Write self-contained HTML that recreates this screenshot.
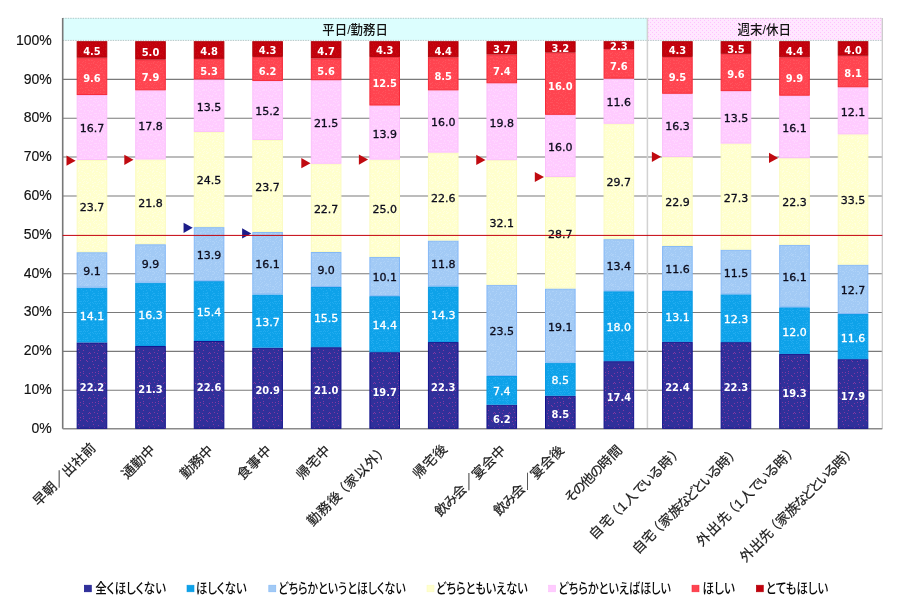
<!DOCTYPE html>
<html lang="ja"><head><meta charset="utf-8"><title>chart</title>
<style>
html,body{margin:0;padding:0;background:#fff;}
body{width:900px;height:608px;overflow:hidden;}
svg{display:block;}
text{font-family:"Liberation Sans","Noto Sans CJK JP",sans-serif;}
.ax{font-size:14px;fill:#111;stroke:#111;stroke-width:0.15px;}
.hd{font-size:13px;fill:#111;font-weight:500;}
.lb{font-family:"DejaVu Sans Condensed","DejaVu Sans","Liberation Sans",sans-serif;font-weight:bold;font-size:11px;stroke-width:0;}
.ln{font-family:"DejaVu Sans","Liberation Sans",sans-serif;font-size:11px;stroke-width:0.3px;}
.xl{font-size:13.5px;fill:#1a1a1a;stroke:#1a1a1a;stroke-width:0.2px;}
.lg{font-size:14px;fill:#0a0a0a;font-feature-settings:"palt";font-weight:500;}
</style></head><body>
<svg width="900" height="608" viewBox="0 0 900 608">
<rect width="900" height="608" fill="#fff"/>
<defs><pattern id="p0" width="15" height="15" patternUnits="userSpaceOnUse"><rect width="15" height="15" fill="#30309a"/><rect x="0" y="8" width="1" height="1" fill="#8438a2"/><rect x="2" y="1" width="1" height="1" fill="#8438a2"/><rect x="2" y="12" width="1" height="1" fill="#8438a2"/><rect x="3" y="4" width="1" height="1" fill="#8438a2"/><rect x="4" y="7" width="1" height="1" fill="#8438a2"/><rect x="5" y="0" width="1" height="1" fill="#8438a2"/><rect x="5" y="12" width="1" height="1" fill="#8438a2"/><rect x="7" y="8" width="1" height="1" fill="#8438a2"/><rect x="8" y="5" width="1" height="1" fill="#8438a2"/><rect x="8" y="11" width="1" height="1" fill="#8438a2"/><rect x="8" y="13" width="1" height="1" fill="#8438a2"/><rect x="11" y="0" width="1" height="1" fill="#8438a2"/><rect x="12" y="1" width="1" height="1" fill="#8438a2"/><rect x="13" y="8" width="1" height="1" fill="#8438a2"/><rect x="14" y="7" width="1" height="1" fill="#8438a2"/><rect x="14" y="13" width="1" height="1" fill="#8438a2"/></pattern><pattern id="p1" width="15" height="15" patternUnits="userSpaceOnUse"><rect width="15" height="15" fill="#0ea2e9"/><rect x="0" y="2" width="1" height="1" fill="#22acf0"/><rect x="0" y="4" width="1" height="1" fill="#22acf0"/><rect x="0" y="5" width="1" height="1" fill="#22acf0"/><rect x="1" y="11" width="1" height="1" fill="#22acf0"/><rect x="1" y="13" width="1" height="1" fill="#22acf0"/><rect x="2" y="2" width="1" height="1" fill="#22acf0"/><rect x="2" y="6" width="1" height="1" fill="#22acf0"/><rect x="2" y="9" width="1" height="1" fill="#22acf0"/><rect x="2" y="13" width="1" height="1" fill="#22acf0"/><rect x="3" y="3" width="1" height="1" fill="#22acf0"/><rect x="3" y="8" width="1" height="1" fill="#22acf0"/><rect x="3" y="12" width="1" height="1" fill="#22acf0"/><rect x="4" y="1" width="1" height="1" fill="#22acf0"/><rect x="4" y="8" width="1" height="1" fill="#22acf0"/><rect x="4" y="10" width="1" height="1" fill="#22acf0"/><rect x="4" y="14" width="1" height="1" fill="#22acf0"/><rect x="5" y="1" width="1" height="1" fill="#22acf0"/><rect x="5" y="3" width="1" height="1" fill="#22acf0"/><rect x="5" y="10" width="1" height="1" fill="#22acf0"/><rect x="6" y="1" width="1" height="1" fill="#22acf0"/><rect x="6" y="4" width="1" height="1" fill="#22acf0"/><rect x="7" y="3" width="1" height="1" fill="#22acf0"/><rect x="7" y="10" width="1" height="1" fill="#22acf0"/><rect x="8" y="1" width="1" height="1" fill="#22acf0"/><rect x="8" y="6" width="1" height="1" fill="#22acf0"/><rect x="8" y="8" width="1" height="1" fill="#22acf0"/><rect x="8" y="10" width="1" height="1" fill="#22acf0"/><rect x="8" y="13" width="1" height="1" fill="#22acf0"/><rect x="9" y="0" width="1" height="1" fill="#22acf0"/><rect x="9" y="3" width="1" height="1" fill="#22acf0"/><rect x="10" y="1" width="1" height="1" fill="#22acf0"/><rect x="10" y="8" width="1" height="1" fill="#22acf0"/><rect x="10" y="10" width="1" height="1" fill="#22acf0"/><rect x="11" y="5" width="1" height="1" fill="#22acf0"/><rect x="11" y="8" width="1" height="1" fill="#22acf0"/><rect x="11" y="11" width="1" height="1" fill="#22acf0"/><rect x="11" y="13" width="1" height="1" fill="#22acf0"/><rect x="12" y="1" width="1" height="1" fill="#22acf0"/><rect x="12" y="7" width="1" height="1" fill="#22acf0"/><rect x="12" y="8" width="1" height="1" fill="#22acf0"/><rect x="12" y="10" width="1" height="1" fill="#22acf0"/><rect x="12" y="12" width="1" height="1" fill="#22acf0"/><rect x="13" y="0" width="1" height="1" fill="#22acf0"/><rect x="13" y="3" width="1" height="1" fill="#22acf0"/><rect x="13" y="10" width="1" height="1" fill="#22acf0"/><rect x="13" y="13" width="1" height="1" fill="#22acf0"/><rect x="14" y="3" width="1" height="1" fill="#22acf0"/></pattern><pattern id="p2" width="15" height="15" patternUnits="userSpaceOnUse"><rect width="15" height="15" fill="#a2caf5"/><rect x="0" y="1" width="1" height="1" fill="#aed2f8"/><rect x="0" y="9" width="1" height="1" fill="#aed2f8"/><rect x="0" y="12" width="1" height="1" fill="#aed2f8"/><rect x="0" y="14" width="1" height="1" fill="#aed2f8"/><rect x="1" y="6" width="1" height="1" fill="#aed2f8"/><rect x="1" y="8" width="1" height="1" fill="#aed2f8"/><rect x="2" y="1" width="1" height="1" fill="#aed2f8"/><rect x="2" y="4" width="1" height="1" fill="#aed2f8"/><rect x="3" y="1" width="1" height="1" fill="#aed2f8"/><rect x="3" y="4" width="1" height="1" fill="#aed2f8"/><rect x="4" y="2" width="1" height="1" fill="#aed2f8"/><rect x="4" y="3" width="1" height="1" fill="#aed2f8"/><rect x="4" y="9" width="1" height="1" fill="#aed2f8"/><rect x="5" y="7" width="1" height="1" fill="#aed2f8"/><rect x="5" y="8" width="1" height="1" fill="#aed2f8"/><rect x="5" y="11" width="1" height="1" fill="#aed2f8"/><rect x="5" y="14" width="1" height="1" fill="#aed2f8"/><rect x="6" y="1" width="1" height="1" fill="#aed2f8"/><rect x="6" y="7" width="1" height="1" fill="#aed2f8"/><rect x="6" y="9" width="1" height="1" fill="#aed2f8"/><rect x="6" y="13" width="1" height="1" fill="#aed2f8"/><rect x="7" y="4" width="1" height="1" fill="#aed2f8"/><rect x="7" y="12" width="1" height="1" fill="#aed2f8"/><rect x="8" y="2" width="1" height="1" fill="#aed2f8"/><rect x="8" y="7" width="1" height="1" fill="#aed2f8"/><rect x="9" y="0" width="1" height="1" fill="#aed2f8"/><rect x="9" y="6" width="1" height="1" fill="#aed2f8"/><rect x="9" y="11" width="1" height="1" fill="#aed2f8"/><rect x="10" y="8" width="1" height="1" fill="#aed2f8"/><rect x="10" y="9" width="1" height="1" fill="#aed2f8"/><rect x="10" y="14" width="1" height="1" fill="#aed2f8"/><rect x="11" y="0" width="1" height="1" fill="#aed2f8"/><rect x="11" y="3" width="1" height="1" fill="#aed2f8"/><rect x="11" y="13" width="1" height="1" fill="#aed2f8"/><rect x="12" y="0" width="1" height="1" fill="#aed2f8"/><rect x="12" y="6" width="1" height="1" fill="#aed2f8"/><rect x="12" y="14" width="1" height="1" fill="#aed2f8"/><rect x="13" y="1" width="1" height="1" fill="#aed2f8"/><rect x="13" y="4" width="1" height="1" fill="#aed2f8"/><rect x="13" y="6" width="1" height="1" fill="#aed2f8"/><rect x="13" y="14" width="1" height="1" fill="#aed2f8"/><rect x="14" y="10" width="1" height="1" fill="#aed2f8"/></pattern><pattern id="p3" width="15" height="15" patternUnits="userSpaceOnUse"><rect width="15" height="15" fill="#ffffcd"/><rect x="0" y="0" width="1" height="1" fill="#ffffdf"/><rect x="0" y="5" width="1" height="1" fill="#ffffdf"/><rect x="0" y="13" width="1" height="1" fill="#ffffdf"/><rect x="0" y="14" width="1" height="1" fill="#ffffdf"/><rect x="2" y="1" width="1" height="1" fill="#ffffdf"/><rect x="2" y="3" width="1" height="1" fill="#ffffdf"/><rect x="2" y="6" width="1" height="1" fill="#ffffdf"/><rect x="2" y="7" width="1" height="1" fill="#ffffdf"/><rect x="2" y="10" width="1" height="1" fill="#ffffdf"/><rect x="3" y="3" width="1" height="1" fill="#ffffdf"/><rect x="3" y="5" width="1" height="1" fill="#ffffdf"/><rect x="3" y="6" width="1" height="1" fill="#ffffdf"/><rect x="3" y="12" width="1" height="1" fill="#ffffdf"/><rect x="4" y="2" width="1" height="1" fill="#ffffdf"/><rect x="4" y="8" width="1" height="1" fill="#ffffdf"/><rect x="4" y="11" width="1" height="1" fill="#ffffdf"/><rect x="4" y="13" width="1" height="1" fill="#ffffdf"/><rect x="5" y="2" width="1" height="1" fill="#ffffdf"/><rect x="5" y="10" width="1" height="1" fill="#ffffdf"/><rect x="6" y="6" width="1" height="1" fill="#ffffdf"/><rect x="6" y="10" width="1" height="1" fill="#ffffdf"/><rect x="6" y="13" width="1" height="1" fill="#ffffdf"/><rect x="7" y="0" width="1" height="1" fill="#ffffdf"/><rect x="7" y="4" width="1" height="1" fill="#ffffdf"/><rect x="7" y="6" width="1" height="1" fill="#ffffdf"/><rect x="8" y="2" width="1" height="1" fill="#ffffdf"/><rect x="8" y="4" width="1" height="1" fill="#ffffdf"/><rect x="8" y="14" width="1" height="1" fill="#ffffdf"/><rect x="9" y="1" width="1" height="1" fill="#ffffdf"/><rect x="9" y="7" width="1" height="1" fill="#ffffdf"/><rect x="9" y="10" width="1" height="1" fill="#ffffdf"/><rect x="9" y="14" width="1" height="1" fill="#ffffdf"/><rect x="10" y="8" width="1" height="1" fill="#ffffdf"/><rect x="10" y="13" width="1" height="1" fill="#ffffdf"/><rect x="11" y="1" width="1" height="1" fill="#ffffdf"/><rect x="11" y="3" width="1" height="1" fill="#ffffdf"/><rect x="11" y="10" width="1" height="1" fill="#ffffdf"/><rect x="12" y="2" width="1" height="1" fill="#ffffdf"/><rect x="12" y="3" width="1" height="1" fill="#ffffdf"/><rect x="12" y="8" width="1" height="1" fill="#ffffdf"/><rect x="12" y="11" width="1" height="1" fill="#ffffdf"/><rect x="12" y="14" width="1" height="1" fill="#ffffdf"/><rect x="13" y="2" width="1" height="1" fill="#ffffdf"/><rect x="13" y="8" width="1" height="1" fill="#ffffdf"/><rect x="14" y="10" width="1" height="1" fill="#ffffdf"/><rect x="14" y="13" width="1" height="1" fill="#ffffdf"/></pattern><pattern id="p4" width="15" height="15" patternUnits="userSpaceOnUse"><rect width="15" height="15" fill="#ffcbff"/><rect x="0" y="0" width="1" height="1" fill="#ffd6ff"/><rect x="0" y="5" width="1" height="1" fill="#ffd6ff"/><rect x="0" y="9" width="1" height="1" fill="#ffd6ff"/><rect x="0" y="14" width="1" height="1" fill="#ffd6ff"/><rect x="1" y="6" width="1" height="1" fill="#ffd6ff"/><rect x="1" y="9" width="1" height="1" fill="#ffd6ff"/><rect x="1" y="14" width="1" height="1" fill="#ffd6ff"/><rect x="2" y="0" width="1" height="1" fill="#ffd6ff"/><rect x="2" y="5" width="1" height="1" fill="#ffd6ff"/><rect x="2" y="6" width="1" height="1" fill="#ffd6ff"/><rect x="3" y="3" width="1" height="1" fill="#ffd6ff"/><rect x="3" y="11" width="1" height="1" fill="#ffd6ff"/><rect x="3" y="14" width="1" height="1" fill="#ffd6ff"/><rect x="4" y="1" width="1" height="1" fill="#ffd6ff"/><rect x="4" y="8" width="1" height="1" fill="#ffd6ff"/><rect x="4" y="11" width="1" height="1" fill="#ffd6ff"/><rect x="5" y="1" width="1" height="1" fill="#ffd6ff"/><rect x="5" y="4" width="1" height="1" fill="#ffd6ff"/><rect x="5" y="8" width="1" height="1" fill="#ffd6ff"/><rect x="5" y="12" width="1" height="1" fill="#ffd6ff"/><rect x="6" y="3" width="1" height="1" fill="#ffd6ff"/><rect x="6" y="4" width="1" height="1" fill="#ffd6ff"/><rect x="6" y="8" width="1" height="1" fill="#ffd6ff"/><rect x="6" y="10" width="1" height="1" fill="#ffd6ff"/><rect x="7" y="0" width="1" height="1" fill="#ffd6ff"/><rect x="7" y="12" width="1" height="1" fill="#ffd6ff"/><rect x="8" y="0" width="1" height="1" fill="#ffd6ff"/><rect x="8" y="8" width="1" height="1" fill="#ffd6ff"/><rect x="8" y="11" width="1" height="1" fill="#ffd6ff"/><rect x="8" y="14" width="1" height="1" fill="#ffd6ff"/><rect x="9" y="0" width="1" height="1" fill="#ffd6ff"/><rect x="9" y="5" width="1" height="1" fill="#ffd6ff"/><rect x="9" y="6" width="1" height="1" fill="#ffd6ff"/><rect x="9" y="14" width="1" height="1" fill="#ffd6ff"/><rect x="10" y="3" width="1" height="1" fill="#ffd6ff"/><rect x="10" y="8" width="1" height="1" fill="#ffd6ff"/><rect x="10" y="10" width="1" height="1" fill="#ffd6ff"/><rect x="11" y="0" width="1" height="1" fill="#ffd6ff"/><rect x="11" y="11" width="1" height="1" fill="#ffd6ff"/><rect x="11" y="14" width="1" height="1" fill="#ffd6ff"/><rect x="12" y="5" width="1" height="1" fill="#ffd6ff"/><rect x="13" y="1" width="1" height="1" fill="#ffd6ff"/><rect x="13" y="5" width="1" height="1" fill="#ffd6ff"/><rect x="13" y="9" width="1" height="1" fill="#ffd6ff"/><rect x="13" y="12" width="1" height="1" fill="#ffd6ff"/><rect x="13" y="13" width="1" height="1" fill="#ffd6ff"/><rect x="14" y="2" width="1" height="1" fill="#ffd6ff"/><rect x="14" y="6" width="1" height="1" fill="#ffd6ff"/><rect x="14" y="7" width="1" height="1" fill="#ffd6ff"/></pattern><pattern id="p5" width="15" height="15" patternUnits="userSpaceOnUse"><rect width="15" height="15" fill="#ff4450"/><rect x="0" y="5" width="1" height="1" fill="#ff525c"/><rect x="0" y="8" width="1" height="1" fill="#ff525c"/><rect x="1" y="0" width="1" height="1" fill="#ff525c"/><rect x="1" y="3" width="1" height="1" fill="#ff525c"/><rect x="1" y="9" width="1" height="1" fill="#ff525c"/><rect x="1" y="12" width="1" height="1" fill="#ff525c"/><rect x="2" y="0" width="1" height="1" fill="#ff525c"/><rect x="2" y="8" width="1" height="1" fill="#ff525c"/><rect x="2" y="12" width="1" height="1" fill="#ff525c"/><rect x="3" y="2" width="1" height="1" fill="#ff525c"/><rect x="3" y="3" width="1" height="1" fill="#ff525c"/><rect x="3" y="10" width="1" height="1" fill="#ff525c"/><rect x="3" y="13" width="1" height="1" fill="#ff525c"/><rect x="4" y="1" width="1" height="1" fill="#ff525c"/><rect x="4" y="7" width="1" height="1" fill="#ff525c"/><rect x="4" y="9" width="1" height="1" fill="#ff525c"/><rect x="5" y="4" width="1" height="1" fill="#ff525c"/><rect x="5" y="7" width="1" height="1" fill="#ff525c"/><rect x="5" y="13" width="1" height="1" fill="#ff525c"/><rect x="6" y="4" width="1" height="1" fill="#ff525c"/><rect x="6" y="9" width="1" height="1" fill="#ff525c"/><rect x="6" y="12" width="1" height="1" fill="#ff525c"/><rect x="7" y="2" width="1" height="1" fill="#ff525c"/><rect x="7" y="5" width="1" height="1" fill="#ff525c"/><rect x="7" y="13" width="1" height="1" fill="#ff525c"/><rect x="8" y="1" width="1" height="1" fill="#ff525c"/><rect x="8" y="6" width="1" height="1" fill="#ff525c"/><rect x="8" y="7" width="1" height="1" fill="#ff525c"/><rect x="9" y="5" width="1" height="1" fill="#ff525c"/><rect x="10" y="0" width="1" height="1" fill="#ff525c"/><rect x="10" y="2" width="1" height="1" fill="#ff525c"/><rect x="10" y="4" width="1" height="1" fill="#ff525c"/><rect x="10" y="8" width="1" height="1" fill="#ff525c"/><rect x="10" y="9" width="1" height="1" fill="#ff525c"/><rect x="10" y="12" width="1" height="1" fill="#ff525c"/><rect x="11" y="8" width="1" height="1" fill="#ff525c"/><rect x="11" y="12" width="1" height="1" fill="#ff525c"/><rect x="12" y="7" width="1" height="1" fill="#ff525c"/><rect x="12" y="10" width="1" height="1" fill="#ff525c"/><rect x="12" y="12" width="1" height="1" fill="#ff525c"/><rect x="13" y="0" width="1" height="1" fill="#ff525c"/><rect x="13" y="3" width="1" height="1" fill="#ff525c"/><rect x="13" y="14" width="1" height="1" fill="#ff525c"/><rect x="14" y="0" width="1" height="1" fill="#ff525c"/><rect x="14" y="3" width="1" height="1" fill="#ff525c"/><rect x="14" y="10" width="1" height="1" fill="#ff525c"/></pattern><pattern id="p6" width="15" height="15" patternUnits="userSpaceOnUse"><rect width="15" height="15" fill="#c2000c"/><rect x="0" y="0" width="1" height="1" fill="#c70a12"/><rect x="0" y="3" width="1" height="1" fill="#c70a12"/><rect x="0" y="4" width="1" height="1" fill="#c70a12"/><rect x="0" y="7" width="1" height="1" fill="#c70a12"/><rect x="0" y="13" width="1" height="1" fill="#c70a12"/><rect x="1" y="10" width="1" height="1" fill="#c70a12"/><rect x="2" y="2" width="1" height="1" fill="#c70a12"/><rect x="2" y="7" width="1" height="1" fill="#c70a12"/><rect x="2" y="9" width="1" height="1" fill="#c70a12"/><rect x="2" y="14" width="1" height="1" fill="#c70a12"/><rect x="3" y="3" width="1" height="1" fill="#c70a12"/><rect x="3" y="10" width="1" height="1" fill="#c70a12"/><rect x="3" y="11" width="1" height="1" fill="#c70a12"/><rect x="4" y="0" width="1" height="1" fill="#c70a12"/><rect x="5" y="5" width="1" height="1" fill="#c70a12"/><rect x="5" y="6" width="1" height="1" fill="#c70a12"/><rect x="5" y="7" width="1" height="1" fill="#c70a12"/><rect x="5" y="13" width="1" height="1" fill="#c70a12"/><rect x="6" y="4" width="1" height="1" fill="#c70a12"/><rect x="6" y="8" width="1" height="1" fill="#c70a12"/><rect x="6" y="10" width="1" height="1" fill="#c70a12"/><rect x="6" y="12" width="1" height="1" fill="#c70a12"/><rect x="6" y="14" width="1" height="1" fill="#c70a12"/><rect x="7" y="9" width="1" height="1" fill="#c70a12"/><rect x="8" y="1" width="1" height="1" fill="#c70a12"/><rect x="8" y="3" width="1" height="1" fill="#c70a12"/><rect x="8" y="8" width="1" height="1" fill="#c70a12"/><rect x="9" y="3" width="1" height="1" fill="#c70a12"/><rect x="9" y="11" width="1" height="1" fill="#c70a12"/><rect x="9" y="13" width="1" height="1" fill="#c70a12"/><rect x="10" y="0" width="1" height="1" fill="#c70a12"/><rect x="10" y="8" width="1" height="1" fill="#c70a12"/><rect x="10" y="9" width="1" height="1" fill="#c70a12"/><rect x="10" y="12" width="1" height="1" fill="#c70a12"/><rect x="11" y="1" width="1" height="1" fill="#c70a12"/><rect x="11" y="4" width="1" height="1" fill="#c70a12"/><rect x="11" y="8" width="1" height="1" fill="#c70a12"/><rect x="12" y="7" width="1" height="1" fill="#c70a12"/><rect x="12" y="9" width="1" height="1" fill="#c70a12"/><rect x="12" y="13" width="1" height="1" fill="#c70a12"/><rect x="13" y="0" width="1" height="1" fill="#c70a12"/><rect x="13" y="1" width="1" height="1" fill="#c70a12"/><rect x="13" y="3" width="1" height="1" fill="#c70a12"/><rect x="13" y="5" width="1" height="1" fill="#c70a12"/><rect x="13" y="10" width="1" height="1" fill="#c70a12"/><rect x="13" y="14" width="1" height="1" fill="#c70a12"/></pattern><pattern id="ph" width="4" height="4" patternUnits="userSpaceOnUse"><rect width="4" height="4" fill="#ffe7ff"/><rect x="0" y="0" width="1" height="1" fill="#ffc2ff"/><rect x="2" y="2" width="1" height="1" fill="#ffc2ff"/></pattern></defs>
<rect x="62.7" y="18.0" width="584.70" height="22.200000000000003" fill="#dcfefe"/>
<rect x="647.40" y="18.0" width="234.90" height="22.200000000000003" fill="url(#ph)"/>
<line x1="62.7" x2="882.3" y1="390.24" y2="390.24" stroke="#7a7a7a" stroke-width="1.05"/>
<line x1="62.7" x2="882.3" y1="351.38" y2="351.38" stroke="#7a7a7a" stroke-width="1.05"/>
<line x1="62.7" x2="882.3" y1="312.52" y2="312.52" stroke="#7a7a7a" stroke-width="1.05"/>
<line x1="62.7" x2="882.3" y1="273.66" y2="273.66" stroke="#7a7a7a" stroke-width="1.05"/>
<line x1="62.7" x2="882.3" y1="195.94" y2="195.94" stroke="#7a7a7a" stroke-width="1.05"/>
<line x1="62.7" x2="882.3" y1="157.08" y2="157.08" stroke="#7a7a7a" stroke-width="1.05"/>
<line x1="62.7" x2="882.3" y1="118.22" y2="118.22" stroke="#7a7a7a" stroke-width="1.05"/>
<line x1="62.7" x2="882.3" y1="79.36" y2="79.36" stroke="#7a7a7a" stroke-width="1.05"/>
<line x1="62.7" x2="882.3" y1="40.40" y2="40.40" stroke="#b4c6c6" stroke-width="1" stroke-dasharray="1.5 1"/>
<line x1="62.7" x2="647.40" y1="18.3" y2="18.3" stroke="#b4c8c8" stroke-width="1" stroke-dasharray="1.5 1"/>
<line x1="647.40" x2="882.3" y1="18.3" y2="18.3" stroke="#dcc4dc" stroke-width="1" stroke-dasharray="1.5 1"/>
<line x1="882.3" x2="882.3" y1="18.0" y2="428.8" stroke="#c8c8c8" stroke-width="1.2"/>
<line x1="647.40" x2="647.40" y1="18.0" y2="428.8" stroke="#d2d2d2" stroke-width="1.5"/>
<line x1="62.7" x2="62.7" y1="18.0" y2="428.8" stroke="#777" stroke-width="1.6"/>
<line x1="62.7" x2="882.3" y1="428.8" y2="428.8" stroke="#8a8a8a" stroke-width="1.4"/>
<text class="ax" x="51.8" y="432.90" text-anchor="end">0%</text>
<text class="ax" x="51.8" y="394.08" text-anchor="end">10%</text>
<text class="ax" x="51.8" y="355.26" text-anchor="end">20%</text>
<text class="ax" x="51.8" y="316.44" text-anchor="end">30%</text>
<text class="ax" x="51.8" y="277.62" text-anchor="end">40%</text>
<text class="ax" x="51.8" y="238.80" text-anchor="end">50%</text>
<text class="ax" x="51.8" y="199.98" text-anchor="end">60%</text>
<text class="ax" x="51.8" y="161.16" text-anchor="end">70%</text>
<text class="ax" x="51.8" y="122.34" text-anchor="end">80%</text>
<text class="ax" x="51.8" y="83.52" text-anchor="end">90%</text>
<text class="ax" x="51.8" y="44.70" text-anchor="end">100%</text>
<text class="hd" x="355.1" y="34.3" text-anchor="middle" textLength="65.5" lengthAdjust="spacingAndGlyphs">平日/勤務日</text>
<text class="hd" x="764.2" y="34.4" text-anchor="middle" textLength="53.5" lengthAdjust="spacingAndGlyphs">週末/休日</text>
<rect x="77.17" y="342.94" width="29.6" height="85.36" fill="url(#p0)" stroke="#12128c" stroke-width="1"/>
<rect x="77.17" y="288.10" width="29.6" height="53.85" fill="url(#p1)" stroke="#0a9ae4" stroke-width="1"/>
<rect x="77.17" y="252.70" width="29.6" height="34.40" fill="url(#p2)" stroke="#84b8f6" stroke-width="1"/>
<rect x="77.17" y="160.51" width="29.6" height="91.19" fill="url(#p3)" stroke="#fbfbc0" stroke-width="1"/>
<rect x="77.17" y="95.55" width="29.6" height="63.96" fill="url(#p4)" stroke="#fbc0fb" stroke-width="1"/>
<rect x="77.17" y="58.20" width="29.6" height="36.34" fill="url(#p5)" stroke="#f62a3a" stroke-width="1"/>
<rect x="77.17" y="41.70" width="29.6" height="15.50" fill="url(#p6)" stroke="#b00008" stroke-width="1"/>
<rect x="135.71" y="346.53" width="29.6" height="81.77" fill="url(#p0)" stroke="#12128c" stroke-width="1"/>
<rect x="135.71" y="283.19" width="29.6" height="62.34" fill="url(#p1)" stroke="#0a9ae4" stroke-width="1"/>
<rect x="135.71" y="244.72" width="29.6" height="37.47" fill="url(#p2)" stroke="#84b8f6" stroke-width="1"/>
<rect x="135.71" y="160.00" width="29.6" height="83.71" fill="url(#p3)" stroke="#fbfbc0" stroke-width="1"/>
<rect x="135.71" y="90.83" width="29.6" height="68.17" fill="url(#p4)" stroke="#fbc0fb" stroke-width="1"/>
<rect x="135.71" y="60.13" width="29.6" height="29.70" fill="url(#p5)" stroke="#f62a3a" stroke-width="1"/>
<rect x="135.71" y="41.70" width="29.6" height="17.43" fill="url(#p6)" stroke="#b00008" stroke-width="1"/>
<rect x="194.26" y="341.48" width="29.6" height="86.82" fill="url(#p0)" stroke="#12128c" stroke-width="1"/>
<rect x="194.26" y="281.63" width="29.6" height="58.84" fill="url(#p1)" stroke="#0a9ae4" stroke-width="1"/>
<rect x="194.26" y="227.62" width="29.6" height="53.02" fill="url(#p2)" stroke="#84b8f6" stroke-width="1"/>
<rect x="194.26" y="132.41" width="29.6" height="94.21" fill="url(#p3)" stroke="#fbfbc0" stroke-width="1"/>
<rect x="194.26" y="79.95" width="29.6" height="51.46" fill="url(#p4)" stroke="#fbc0fb" stroke-width="1"/>
<rect x="194.26" y="59.35" width="29.6" height="19.60" fill="url(#p5)" stroke="#f62a3a" stroke-width="1"/>
<rect x="194.26" y="41.70" width="29.6" height="16.65" fill="url(#p6)" stroke="#b00008" stroke-width="1"/>
<rect x="252.80" y="348.16" width="29.6" height="80.14" fill="url(#p0)" stroke="#12128c" stroke-width="1"/>
<rect x="252.80" y="294.98" width="29.6" height="52.19" fill="url(#p1)" stroke="#0a9ae4" stroke-width="1"/>
<rect x="252.80" y="232.48" width="29.6" height="61.50" fill="url(#p2)" stroke="#84b8f6" stroke-width="1"/>
<rect x="252.80" y="140.47" width="29.6" height="91.01" fill="url(#p3)" stroke="#fbfbc0" stroke-width="1"/>
<rect x="252.80" y="81.46" width="29.6" height="58.01" fill="url(#p4)" stroke="#fbc0fb" stroke-width="1"/>
<rect x="252.80" y="57.39" width="29.6" height="23.07" fill="url(#p5)" stroke="#f62a3a" stroke-width="1"/>
<rect x="252.80" y="41.70" width="29.6" height="14.69" fill="url(#p6)" stroke="#b00008" stroke-width="1"/>
<rect x="311.34" y="347.69" width="29.6" height="80.61" fill="url(#p0)" stroke="#12128c" stroke-width="1"/>
<rect x="311.34" y="287.46" width="29.6" height="59.23" fill="url(#p1)" stroke="#0a9ae4" stroke-width="1"/>
<rect x="311.34" y="252.49" width="29.6" height="33.97" fill="url(#p2)" stroke="#84b8f6" stroke-width="1"/>
<rect x="311.34" y="164.27" width="29.6" height="87.21" fill="url(#p3)" stroke="#fbfbc0" stroke-width="1"/>
<rect x="311.34" y="80.73" width="29.6" height="82.55" fill="url(#p4)" stroke="#fbc0fb" stroke-width="1"/>
<rect x="311.34" y="58.96" width="29.6" height="20.76" fill="url(#p5)" stroke="#f62a3a" stroke-width="1"/>
<rect x="311.34" y="41.70" width="29.6" height="16.26" fill="url(#p6)" stroke="#b00008" stroke-width="1"/>
<rect x="369.89" y="352.67" width="29.6" height="75.63" fill="url(#p0)" stroke="#12128c" stroke-width="1"/>
<rect x="369.89" y="296.65" width="29.6" height="55.01" fill="url(#p1)" stroke="#0a9ae4" stroke-width="1"/>
<rect x="369.89" y="257.37" width="29.6" height="38.29" fill="url(#p2)" stroke="#84b8f6" stroke-width="1"/>
<rect x="369.89" y="160.12" width="29.6" height="96.25" fill="url(#p3)" stroke="#fbfbc0" stroke-width="1"/>
<rect x="369.89" y="106.05" width="29.6" height="53.07" fill="url(#p4)" stroke="#fbc0fb" stroke-width="1"/>
<rect x="369.89" y="57.43" width="29.6" height="47.62" fill="url(#p5)" stroke="#f62a3a" stroke-width="1"/>
<rect x="369.89" y="41.70" width="29.6" height="14.73" fill="url(#p6)" stroke="#b00008" stroke-width="1"/>
<rect x="428.43" y="342.56" width="29.6" height="85.74" fill="url(#p0)" stroke="#12128c" stroke-width="1"/>
<rect x="428.43" y="286.93" width="29.6" height="54.63" fill="url(#p1)" stroke="#0a9ae4" stroke-width="1"/>
<rect x="428.43" y="241.03" width="29.6" height="44.90" fill="url(#p2)" stroke="#84b8f6" stroke-width="1"/>
<rect x="428.43" y="153.12" width="29.6" height="86.91" fill="url(#p3)" stroke="#fbfbc0" stroke-width="1"/>
<rect x="428.43" y="90.88" width="29.6" height="61.24" fill="url(#p4)" stroke="#fbc0fb" stroke-width="1"/>
<rect x="428.43" y="57.82" width="29.6" height="32.06" fill="url(#p5)" stroke="#f62a3a" stroke-width="1"/>
<rect x="428.43" y="41.70" width="29.6" height="15.12" fill="url(#p6)" stroke="#b00008" stroke-width="1"/>
<rect x="486.97" y="405.23" width="29.6" height="23.07" fill="url(#p0)" stroke="#12128c" stroke-width="1"/>
<rect x="486.97" y="376.50" width="29.6" height="27.73" fill="url(#p1)" stroke="#0a9ae4" stroke-width="1"/>
<rect x="486.97" y="285.27" width="29.6" height="90.23" fill="url(#p2)" stroke="#84b8f6" stroke-width="1"/>
<rect x="486.97" y="160.66" width="29.6" height="123.62" fill="url(#p3)" stroke="#fbfbc0" stroke-width="1"/>
<rect x="486.97" y="83.79" width="29.6" height="75.87" fill="url(#p4)" stroke="#fbc0fb" stroke-width="1"/>
<rect x="486.97" y="55.06" width="29.6" height="27.73" fill="url(#p5)" stroke="#f62a3a" stroke-width="1"/>
<rect x="486.97" y="41.70" width="29.6" height="12.36" fill="url(#p6)" stroke="#b00008" stroke-width="1"/>
<rect x="545.51" y="396.27" width="29.6" height="32.03" fill="url(#p0)" stroke="#12128c" stroke-width="1"/>
<rect x="545.51" y="363.24" width="29.6" height="32.03" fill="url(#p1)" stroke="#0a9ae4" stroke-width="1"/>
<rect x="545.51" y="289.02" width="29.6" height="73.22" fill="url(#p2)" stroke="#84b8f6" stroke-width="1"/>
<rect x="545.51" y="177.49" width="29.6" height="110.53" fill="url(#p3)" stroke="#fbfbc0" stroke-width="1"/>
<rect x="545.51" y="115.31" width="29.6" height="61.18" fill="url(#p4)" stroke="#fbc0fb" stroke-width="1"/>
<rect x="545.51" y="53.14" width="29.6" height="61.18" fill="url(#p5)" stroke="#f62a3a" stroke-width="1"/>
<rect x="545.51" y="41.70" width="29.6" height="10.44" fill="url(#p6)" stroke="#b00008" stroke-width="1"/>
<rect x="604.06" y="361.68" width="29.6" height="66.62" fill="url(#p0)" stroke="#12128c" stroke-width="1"/>
<rect x="604.06" y="291.74" width="29.6" height="68.95" fill="url(#p1)" stroke="#0a9ae4" stroke-width="1"/>
<rect x="604.06" y="239.66" width="29.6" height="51.07" fill="url(#p2)" stroke="#84b8f6" stroke-width="1"/>
<rect x="604.06" y="124.25" width="29.6" height="114.41" fill="url(#p3)" stroke="#fbfbc0" stroke-width="1"/>
<rect x="604.06" y="79.17" width="29.6" height="44.08" fill="url(#p4)" stroke="#fbc0fb" stroke-width="1"/>
<rect x="604.06" y="49.64" width="29.6" height="28.53" fill="url(#p5)" stroke="#f62a3a" stroke-width="1"/>
<rect x="604.06" y="41.70" width="29.6" height="6.94" fill="url(#p6)" stroke="#b00008" stroke-width="1"/>
<rect x="662.60" y="342.34" width="29.6" height="85.96" fill="url(#p0)" stroke="#12128c" stroke-width="1"/>
<rect x="662.60" y="291.48" width="29.6" height="49.86" fill="url(#p1)" stroke="#0a9ae4" stroke-width="1"/>
<rect x="662.60" y="246.45" width="29.6" height="44.03" fill="url(#p2)" stroke="#84b8f6" stroke-width="1"/>
<rect x="662.60" y="157.55" width="29.6" height="87.90" fill="url(#p3)" stroke="#fbfbc0" stroke-width="1"/>
<rect x="662.60" y="94.27" width="29.6" height="62.28" fill="url(#p4)" stroke="#fbc0fb" stroke-width="1"/>
<rect x="662.60" y="57.39" width="29.6" height="35.88" fill="url(#p5)" stroke="#f62a3a" stroke-width="1"/>
<rect x="662.60" y="41.70" width="29.6" height="14.69" fill="url(#p6)" stroke="#b00008" stroke-width="1"/>
<rect x="721.14" y="342.64" width="29.6" height="85.66" fill="url(#p0)" stroke="#12128c" stroke-width="1"/>
<rect x="721.14" y="294.84" width="29.6" height="46.80" fill="url(#p1)" stroke="#0a9ae4" stroke-width="1"/>
<rect x="721.14" y="250.16" width="29.6" height="43.69" fill="url(#p2)" stroke="#84b8f6" stroke-width="1"/>
<rect x="721.14" y="144.07" width="29.6" height="105.09" fill="url(#p3)" stroke="#fbfbc0" stroke-width="1"/>
<rect x="721.14" y="91.61" width="29.6" height="51.46" fill="url(#p4)" stroke="#fbc0fb" stroke-width="1"/>
<rect x="721.14" y="54.30" width="29.6" height="36.31" fill="url(#p5)" stroke="#f62a3a" stroke-width="1"/>
<rect x="721.14" y="41.70" width="29.6" height="11.60" fill="url(#p6)" stroke="#b00008" stroke-width="1"/>
<rect x="779.69" y="354.38" width="29.6" height="73.92" fill="url(#p0)" stroke="#12128c" stroke-width="1"/>
<rect x="779.69" y="307.79" width="29.6" height="45.59" fill="url(#p1)" stroke="#0a9ae4" stroke-width="1"/>
<rect x="779.69" y="245.29" width="29.6" height="61.50" fill="url(#p2)" stroke="#84b8f6" stroke-width="1"/>
<rect x="779.69" y="158.72" width="29.6" height="85.57" fill="url(#p3)" stroke="#fbfbc0" stroke-width="1"/>
<rect x="779.69" y="96.21" width="29.6" height="61.50" fill="url(#p4)" stroke="#fbc0fb" stroke-width="1"/>
<rect x="779.69" y="57.78" width="29.6" height="37.43" fill="url(#p5)" stroke="#f62a3a" stroke-width="1"/>
<rect x="779.69" y="41.70" width="29.6" height="15.08" fill="url(#p6)" stroke="#b00008" stroke-width="1"/>
<rect x="838.23" y="359.67" width="29.6" height="68.63" fill="url(#p0)" stroke="#12128c" stroke-width="1"/>
<rect x="838.23" y="314.55" width="29.6" height="44.12" fill="url(#p1)" stroke="#0a9ae4" stroke-width="1"/>
<rect x="838.23" y="265.15" width="29.6" height="48.40" fill="url(#p2)" stroke="#84b8f6" stroke-width="1"/>
<rect x="838.23" y="134.84" width="29.6" height="129.31" fill="url(#p3)" stroke="#fbfbc0" stroke-width="1"/>
<rect x="838.23" y="87.77" width="29.6" height="46.07" fill="url(#p4)" stroke="#fbc0fb" stroke-width="1"/>
<rect x="838.23" y="56.26" width="29.6" height="30.51" fill="url(#p5)" stroke="#f62a3a" stroke-width="1"/>
<rect x="838.23" y="41.70" width="29.6" height="13.56" fill="url(#p6)" stroke="#b00008" stroke-width="1"/>
<text class="lb" x="91.97" y="391.42" text-anchor="middle" fill="#fff" stroke="#fff">22.2</text>
<text class="ln" x="91.97" y="319.97" text-anchor="middle" fill="#fff" stroke="#fff" stroke-width="0.45">14.1</text>
<text class="ln" x="91.97" y="274.85" text-anchor="middle" fill="#0c0c1c" stroke="#0c0c1c">9.1</text>
<text class="ln" x="91.97" y="211.05" text-anchor="middle" fill="#0c0c1c" stroke="#0c0c1c">23.7</text>
<text class="ln" x="91.97" y="132.48" text-anchor="middle" fill="#0c0c1c" stroke="#0c0c1c">16.7</text>
<text class="lb" x="91.97" y="82.18" text-anchor="middle" fill="#fff" stroke="#fff">9.6</text>
<text class="lb" x="91.97" y="54.75" text-anchor="middle" fill="#fff" stroke="#fff">4.5</text>
<text class="lb" x="150.51" y="393.21" text-anchor="middle" fill="#fff" stroke="#fff">21.3</text>
<text class="ln" x="150.51" y="319.31" text-anchor="middle" fill="#fff" stroke="#fff" stroke-width="0.45">16.3</text>
<text class="ln" x="150.51" y="268.40" text-anchor="middle" fill="#0c0c1c" stroke="#0c0c1c">9.9</text>
<text class="ln" x="150.51" y="206.81" text-anchor="middle" fill="#0c0c1c" stroke="#0c0c1c">21.8</text>
<text class="ln" x="150.51" y="129.86" text-anchor="middle" fill="#0c0c1c" stroke="#0c0c1c">17.8</text>
<text class="lb" x="150.51" y="80.78" text-anchor="middle" fill="#fff" stroke="#fff">7.9</text>
<text class="lb" x="150.51" y="55.71" text-anchor="middle" fill="#fff" stroke="#fff">5.0</text>
<text class="lb" x="209.06" y="390.69" text-anchor="middle" fill="#fff" stroke="#fff">22.6</text>
<text class="ln" x="209.06" y="316.00" text-anchor="middle" fill="#fff" stroke="#fff" stroke-width="0.45">15.4</text>
<text class="ln" x="209.06" y="259.07" text-anchor="middle" fill="#0c0c1c" stroke="#0c0c1c">13.9</text>
<text class="ln" x="209.06" y="184.46" text-anchor="middle" fill="#0c0c1c" stroke="#0c0c1c">24.5</text>
<text class="ln" x="209.06" y="110.63" text-anchor="middle" fill="#0c0c1c" stroke="#0c0c1c">13.5</text>
<text class="lb" x="209.06" y="74.95" text-anchor="middle" fill="#fff" stroke="#fff">5.3</text>
<text class="lb" x="209.06" y="55.33" text-anchor="middle" fill="#fff" stroke="#fff">4.8</text>
<text class="lb" x="267.60" y="394.03" text-anchor="middle" fill="#fff" stroke="#fff">20.9</text>
<text class="ln" x="267.60" y="326.02" text-anchor="middle" fill="#fff" stroke="#fff" stroke-width="0.45">13.7</text>
<text class="ln" x="267.60" y="268.18" text-anchor="middle" fill="#0c0c1c" stroke="#0c0c1c">16.1</text>
<text class="ln" x="267.60" y="190.92" text-anchor="middle" fill="#0c0c1c" stroke="#0c0c1c">23.7</text>
<text class="ln" x="267.60" y="115.42" text-anchor="middle" fill="#0c0c1c" stroke="#0c0c1c">15.2</text>
<text class="lb" x="267.60" y="74.73" text-anchor="middle" fill="#fff" stroke="#fff">6.2</text>
<text class="lb" x="267.60" y="54.35" text-anchor="middle" fill="#fff" stroke="#fff">4.3</text>
<text class="lb" x="326.14" y="393.80" text-anchor="middle" fill="#fff" stroke="#fff">21.0</text>
<text class="ln" x="326.14" y="322.03" text-anchor="middle" fill="#fff" stroke="#fff" stroke-width="0.45">15.5</text>
<text class="ln" x="326.14" y="274.42" text-anchor="middle" fill="#0c0c1c" stroke="#0c0c1c">9.0</text>
<text class="ln" x="326.14" y="212.83" text-anchor="middle" fill="#0c0c1c" stroke="#0c0c1c">22.7</text>
<text class="ln" x="326.14" y="126.95" text-anchor="middle" fill="#0c0c1c" stroke="#0c0c1c">21.5</text>
<text class="lb" x="326.14" y="75.14" text-anchor="middle" fill="#fff" stroke="#fff">5.6</text>
<text class="lb" x="326.14" y="55.13" text-anchor="middle" fill="#fff" stroke="#fff">4.7</text>
<text class="lb" x="384.69" y="396.28" text-anchor="middle" fill="#fff" stroke="#fff">19.7</text>
<text class="ln" x="384.69" y="329.11" text-anchor="middle" fill="#fff" stroke="#fff" stroke-width="0.45">14.4</text>
<text class="ln" x="384.69" y="281.46" text-anchor="middle" fill="#0c0c1c" stroke="#0c0c1c">10.1</text>
<text class="ln" x="384.69" y="213.19" text-anchor="middle" fill="#0c0c1c" stroke="#0c0c1c">25.0</text>
<text class="ln" x="384.69" y="137.53" text-anchor="middle" fill="#0c0c1c" stroke="#0c0c1c">13.9</text>
<text class="lb" x="384.69" y="87.04" text-anchor="middle" fill="#fff" stroke="#fff">12.5</text>
<text class="lb" x="384.69" y="54.36" text-anchor="middle" fill="#fff" stroke="#fff">4.3</text>
<text class="lb" x="443.23" y="391.23" text-anchor="middle" fill="#fff" stroke="#fff">22.3</text>
<text class="ln" x="443.23" y="319.19" text-anchor="middle" fill="#fff" stroke="#fff" stroke-width="0.45">14.3</text>
<text class="ln" x="443.23" y="268.43" text-anchor="middle" fill="#0c0c1c" stroke="#0c0c1c">11.8</text>
<text class="ln" x="443.23" y="201.52" text-anchor="middle" fill="#0c0c1c" stroke="#0c0c1c">22.6</text>
<text class="ln" x="443.23" y="126.45" text-anchor="middle" fill="#0c0c1c" stroke="#0c0c1c">16.0</text>
<text class="lb" x="443.23" y="79.65" text-anchor="middle" fill="#fff" stroke="#fff">8.5</text>
<text class="lb" x="443.23" y="54.56" text-anchor="middle" fill="#fff" stroke="#fff">4.4</text>
<text class="lb" x="501.77" y="422.57" text-anchor="middle" fill="#fff" stroke="#fff">6.2</text>
<text class="ln" x="501.77" y="395.32" text-anchor="middle" fill="#fff" stroke="#fff" stroke-width="0.45">7.4</text>
<text class="ln" x="501.77" y="335.34" text-anchor="middle" fill="#0c0c1c" stroke="#0c0c1c">23.5</text>
<text class="ln" x="501.77" y="227.42" text-anchor="middle" fill="#0c0c1c" stroke="#0c0c1c">32.1</text>
<text class="ln" x="501.77" y="126.67" text-anchor="middle" fill="#0c0c1c" stroke="#0c0c1c">19.8</text>
<text class="lb" x="501.77" y="74.73" text-anchor="middle" fill="#fff" stroke="#fff">7.4</text>
<text class="lb" x="501.77" y="53.18" text-anchor="middle" fill="#fff" stroke="#fff">3.7</text>
<text class="lb" x="560.31" y="418.08" text-anchor="middle" fill="#fff" stroke="#fff">8.5</text>
<text class="ln" x="560.31" y="384.20" text-anchor="middle" fill="#fff" stroke="#fff" stroke-width="0.45">8.5</text>
<text class="ln" x="560.31" y="330.58" text-anchor="middle" fill="#0c0c1c" stroke="#0c0c1c">19.1</text>
<text class="ln" x="560.31" y="237.70" text-anchor="middle" fill="#0c0c1c" stroke="#0c0c1c">28.7</text>
<text class="ln" x="560.31" y="150.85" text-anchor="middle" fill="#0c0c1c" stroke="#0c0c1c">16.0</text>
<text class="lb" x="560.31" y="89.52" text-anchor="middle" fill="#fff" stroke="#fff">16.0</text>
<text class="lb" x="560.31" y="52.22" text-anchor="middle" fill="#fff" stroke="#fff">3.2</text>
<text class="lb" x="618.86" y="400.79" text-anchor="middle" fill="#fff" stroke="#fff">17.4</text>
<text class="ln" x="618.86" y="331.16" text-anchor="middle" fill="#fff" stroke="#fff" stroke-width="0.45">18.0</text>
<text class="ln" x="618.86" y="270.15" text-anchor="middle" fill="#0c0c1c" stroke="#0c0c1c">13.4</text>
<text class="ln" x="618.86" y="186.41" text-anchor="middle" fill="#0c0c1c" stroke="#0c0c1c">29.7</text>
<text class="ln" x="618.86" y="106.16" text-anchor="middle" fill="#0c0c1c" stroke="#0c0c1c">11.6</text>
<text class="lb" x="618.86" y="69.70" text-anchor="middle" fill="#fff" stroke="#fff">7.6</text>
<text class="lb" x="618.86" y="50.47" text-anchor="middle" fill="#fff" stroke="#fff">2.3</text>
<text class="lb" x="677.40" y="391.12" text-anchor="middle" fill="#fff" stroke="#fff">22.4</text>
<text class="ln" x="677.40" y="321.36" text-anchor="middle" fill="#fff" stroke="#fff" stroke-width="0.45">13.1</text>
<text class="ln" x="677.40" y="273.42" text-anchor="middle" fill="#0c0c1c" stroke="#0c0c1c">11.6</text>
<text class="ln" x="677.40" y="206.45" text-anchor="middle" fill="#0c0c1c" stroke="#0c0c1c">22.9</text>
<text class="ln" x="677.40" y="130.36" text-anchor="middle" fill="#0c0c1c" stroke="#0c0c1c">16.3</text>
<text class="lb" x="677.40" y="81.13" text-anchor="middle" fill="#fff" stroke="#fff">9.5</text>
<text class="lb" x="677.40" y="54.35" text-anchor="middle" fill="#fff" stroke="#fff">4.3</text>
<text class="lb" x="735.94" y="391.27" text-anchor="middle" fill="#fff" stroke="#fff">22.3</text>
<text class="ln" x="735.94" y="323.19" text-anchor="middle" fill="#fff" stroke="#fff" stroke-width="0.45">12.3</text>
<text class="ln" x="735.94" y="276.95" text-anchor="middle" fill="#0c0c1c" stroke="#0c0c1c">11.5</text>
<text class="ln" x="735.94" y="201.56" text-anchor="middle" fill="#0c0c1c" stroke="#0c0c1c">27.3</text>
<text class="ln" x="735.94" y="122.29" text-anchor="middle" fill="#0c0c1c" stroke="#0c0c1c">13.5</text>
<text class="lb" x="735.94" y="78.25" text-anchor="middle" fill="#fff" stroke="#fff">9.6</text>
<text class="lb" x="735.94" y="52.80" text-anchor="middle" fill="#fff" stroke="#fff">3.5</text>
<text class="lb" x="794.49" y="397.14" text-anchor="middle" fill="#fff" stroke="#fff">19.3</text>
<text class="ln" x="794.49" y="335.53" text-anchor="middle" fill="#fff" stroke="#fff" stroke-width="0.45">12.0</text>
<text class="ln" x="794.49" y="280.99" text-anchor="middle" fill="#0c0c1c" stroke="#0c0c1c">16.1</text>
<text class="ln" x="794.49" y="206.45" text-anchor="middle" fill="#0c0c1c" stroke="#0c0c1c">22.3</text>
<text class="ln" x="794.49" y="131.92" text-anchor="middle" fill="#0c0c1c" stroke="#0c0c1c">16.1</text>
<text class="lb" x="794.49" y="82.30" text-anchor="middle" fill="#fff" stroke="#fff">9.9</text>
<text class="lb" x="794.49" y="54.54" text-anchor="middle" fill="#fff" stroke="#fff">4.4</text>
<text class="lb" x="853.03" y="399.79" text-anchor="middle" fill="#fff" stroke="#fff">17.9</text>
<text class="ln" x="853.03" y="341.56" text-anchor="middle" fill="#fff" stroke="#fff" stroke-width="0.45">11.6</text>
<text class="ln" x="853.03" y="294.30" text-anchor="middle" fill="#0c0c1c" stroke="#0c0c1c">12.7</text>
<text class="ln" x="853.03" y="204.44" text-anchor="middle" fill="#0c0c1c" stroke="#0c0c1c">33.5</text>
<text class="ln" x="853.03" y="115.75" text-anchor="middle" fill="#0c0c1c" stroke="#0c0c1c">12.1</text>
<text class="lb" x="853.03" y="77.31" text-anchor="middle" fill="#fff" stroke="#fff">8.1</text>
<text class="lb" x="853.03" y="53.78" text-anchor="middle" fill="#fff" stroke="#fff">4.0</text>
<polygon points="66.47,155.58 75.67,160.68 66.47,165.78" fill="#c00a10"/>
<polygon points="124.31,154.70 133.51,159.80 124.31,164.90" fill="#c00a10"/>
<polygon points="183.56,222.72 192.76,227.82 183.56,232.92" fill="#1c1c88"/>
<polygon points="242.10,228.28 251.30,233.38 242.10,238.48" fill="#1c1c88"/>
<polygon points="301.34,158.07 310.54,163.17 301.34,168.27" fill="#c00a10"/>
<polygon points="358.89,154.49 368.09,159.59 358.89,164.69" fill="#c00a10"/>
<polygon points="476.27,154.79 485.47,159.89 476.27,164.99" fill="#c00a10"/>
<polygon points="534.81,171.89 544.01,176.99 534.81,182.09" fill="#c00a10"/>
<polygon points="651.90,151.68 661.10,156.78 651.90,161.88" fill="#c00a10"/>
<polygon points="768.99,152.85 778.19,157.95 768.99,163.05" fill="#c00a10"/>
<line x1="62.7" x2="882.3" y1="235.4" y2="235.4" stroke="#c4000c" stroke-width="1"/>
<text class="xl" transform="translate(96.60,448.60) rotate(-45)" x="-82.13 -68.42 -54.72 -41.01 -27.31 -13.60" y="0">早朝／出社前</text>
<text class="xl" transform="translate(156.00,450.80) rotate(-45)" x="-40.65 -27.09 -13.53" y="0">通勤中</text>
<text class="xl" transform="translate(214.00,451.20) rotate(-45)" x="-40.08 -26.75 -13.42" y="0">勤務中</text>
<text class="xl" transform="translate(272.40,451.00) rotate(-45)" x="-41.79 -27.77 -13.76" y="0">食事中</text>
<text class="xl" transform="translate(331.20,451.20) rotate(-45)" x="-41.21 -27.42 -13.64" y="0">帰宅中</text>
<text class="xl" transform="translate(387.10,452.40) rotate(-45)" x="-105.10 -90.85 -76.59 -66.33 -52.36 -38.11 -23.85 -9.89" y="0">勤務後（家以外）</text>
<text class="xl" transform="translate(448.10,449.80) rotate(-45)" x="-41.77 -27.76 -13.75" y="0">帰宅後</text>
<text class="xl" transform="translate(506.70,451.10) rotate(-45)" x="-93.61 -81.28 -68.94 -55.12 -41.30 -27.48 -13.66" y="0">飲み会／宴会中</text>
<text class="xl" transform="translate(564.80,451.10) rotate(-45)" x="-92.57 -80.38 -68.19 -54.54 -40.88 -27.23 -13.58" y="0">飲み会／宴会後</text>
<text class="xl" transform="translate(623.10,450.90) rotate(-45)" x="-75.14 -64.31 -52.01 -39.71 -27.41 -13.64" y="0">その他の時間</text>
<text class="xl" transform="translate(681.60,453.40) rotate(-45)" x="-122.70 -107.86 -97.10 -83.07 -74.37 -61.12 -49.46 -37.80 -24.56 -10.09" y="0">自宅（1人でいる時）</text>
<text class="xl" transform="translate(738.30,454.40) rotate(-45)" x="-142.03 -128.26 -118.41 -104.86 -91.10 -78.81 -68.00 -57.18 -46.37 -35.56 -23.27 -9.72" y="0">自宅（家族などといる時）</text>
<text class="xl" transform="translate(796.60,452.40) rotate(-45)" x="-133.66 -119.26 -104.86 -94.47 -80.72 -72.36 -59.51 -48.20 -36.88 -24.03 -9.94" y="0">外出先（1人でいる時）</text>
<text class="xl" transform="translate(854.60,453.60) rotate(-45)" x="-154.29 -140.67 -127.04 -117.31 -103.88 -90.25 -78.09 -67.38 -56.68 -45.97 -35.27 -23.10 -9.67" y="0">外出先（家族などといる時）</text>
<rect x="84.3" y="585.2" width="7" height="6.6" fill="#30309a" stroke="#12128c" stroke-width="0.6"/>
<text class="lg" x="95.2" y="593.4" textLength="70.8" lengthAdjust="spacingAndGlyphs">全くほしくない</text>
<rect x="187.0" y="585.2" width="7" height="6.6" fill="#0ea2e9" stroke="#0a9ae4" stroke-width="0.6"/>
<text class="lg" x="195.9" y="593.4" textLength="50.8" lengthAdjust="spacingAndGlyphs">ほしくない</text>
<rect x="268.8" y="585.2" width="7" height="6.6" fill="#a2caf5" stroke="#84b8f6" stroke-width="0.6"/>
<text class="lg" x="278.2" y="593.4" textLength="127.5" lengthAdjust="spacingAndGlyphs">どちらかというとほしくない</text>
<rect x="427.0" y="585.2" width="7" height="6.6" fill="#ffffcd" stroke="#fbfbc0" stroke-width="0.6"/>
<text class="lg" x="435.9" y="593.4" textLength="91.8" lengthAdjust="spacingAndGlyphs">どちらともいえない</text>
<rect x="548.6" y="585.2" width="7" height="6.6" fill="#ffcbff" stroke="#fbc0fb" stroke-width="0.6"/>
<text class="lg" x="558.2" y="593.4" textLength="112.8" lengthAdjust="spacingAndGlyphs">どちらかといえばほしい</text>
<rect x="692.0" y="585.2" width="7" height="6.6" fill="#ff4450" stroke="#f62a3a" stroke-width="0.6"/>
<text class="lg" x="702.5" y="593.4" textLength="32.5" lengthAdjust="spacingAndGlyphs">ほしい</text>
<rect x="756.3" y="585.2" width="7" height="6.6" fill="#c2000c" stroke="#b00008" stroke-width="0.6"/>
<text class="lg" x="765.9" y="593.4" textLength="62.4" lengthAdjust="spacingAndGlyphs">とてもほしい</text>
</svg>
</body></html>
